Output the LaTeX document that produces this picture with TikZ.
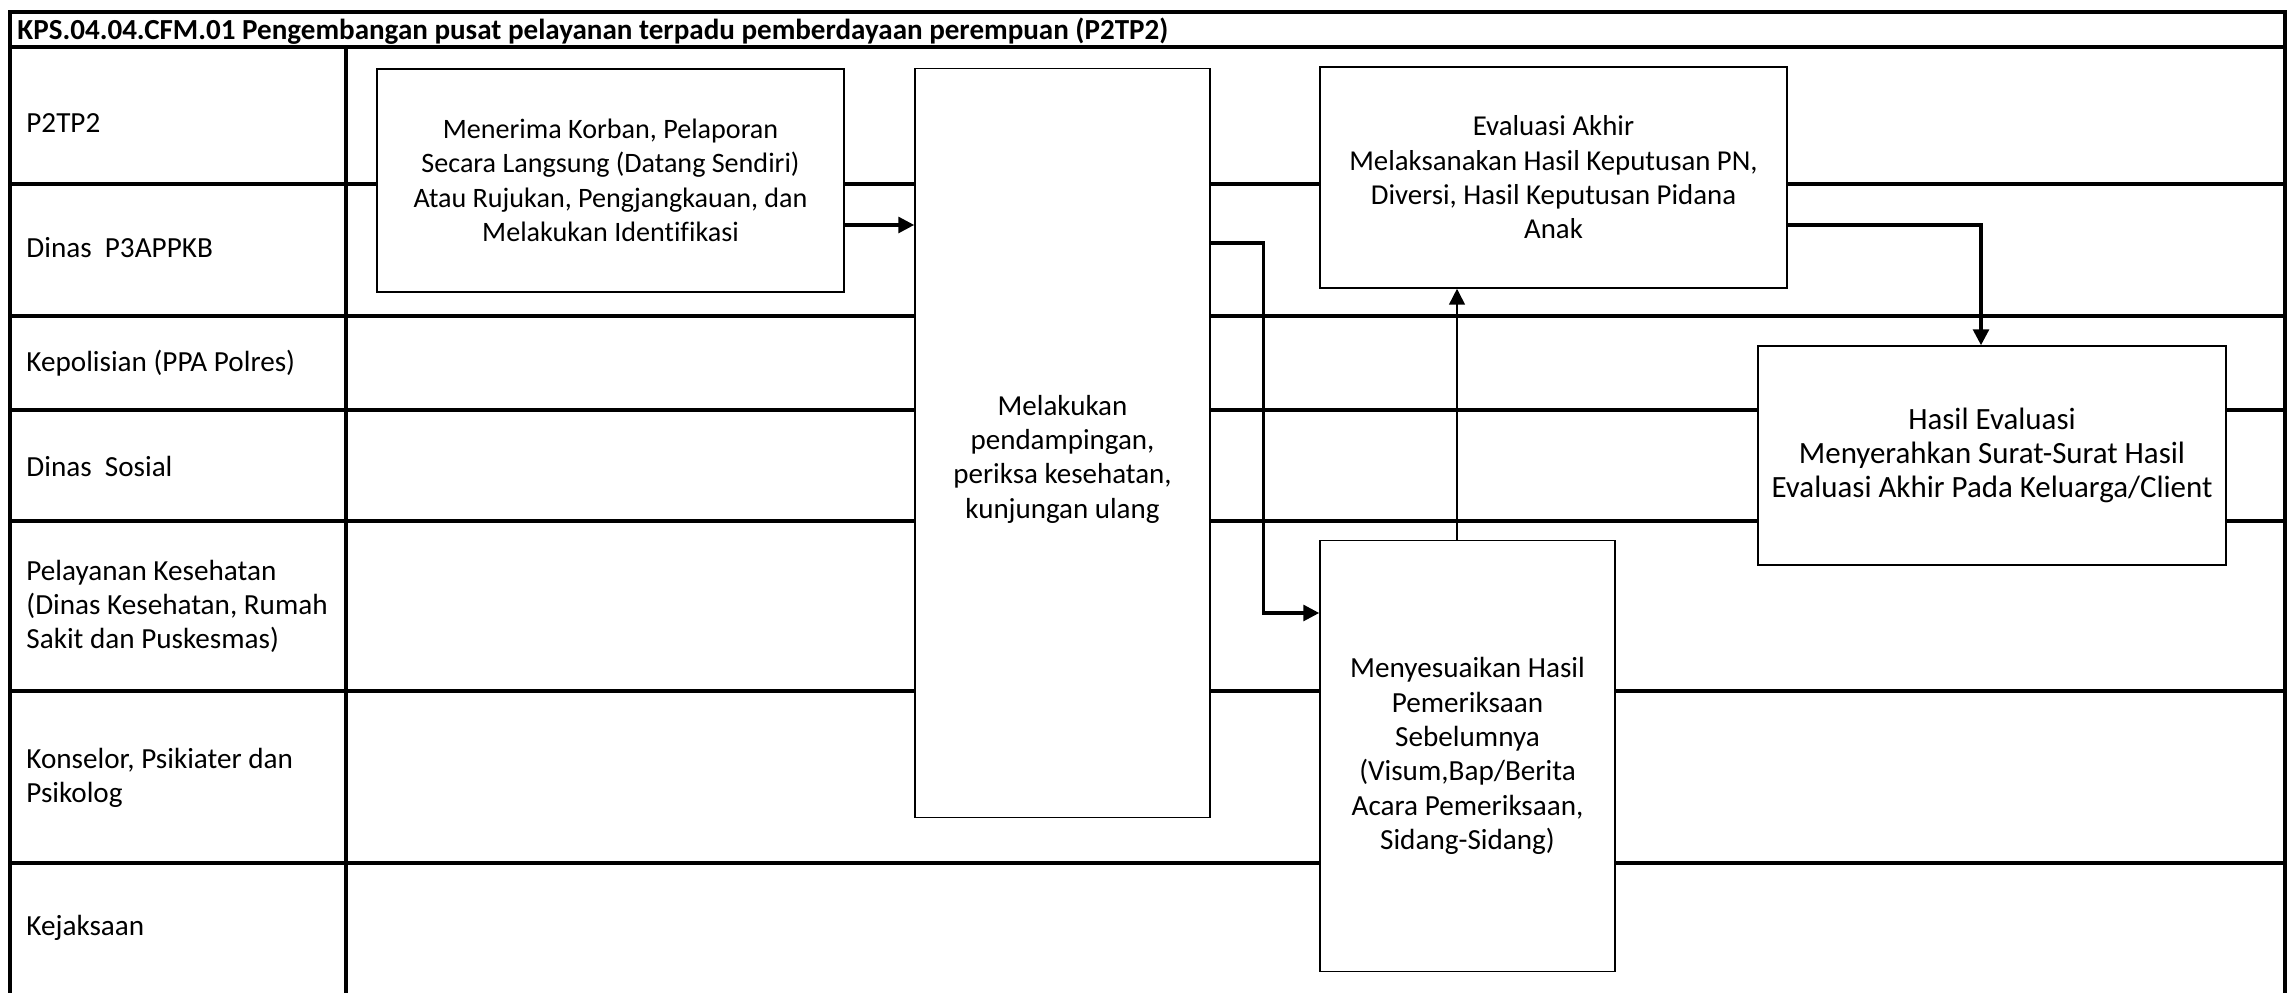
\documentclass[tikz,border=0pt]{standalone}
\usepackage{fontspec}
\setmainfont{Carlito}[Ligatures=NoCommon]
\usetikzlibrary{arrows.meta}

\tikzset{
    lane/.style={line width=0.9pt},
    lanelabel/.style={anchor=west,align=left,font=\fontsize{8.3pt}{9.76pt}\selectfont},
    box/.style={draw,fill=white,line width=0.45pt,align=center},
    boxsize/.style={font=\fontsize{#1}{9.76pt}\selectfont},
    flow/.style={line width=0.9pt,-{Triangle[length=4.5pt,width=4.5pt]}},
}

\begin{document}
\begin{tikzpicture}[font=\fontsize{8pt}{9.76pt}\selectfont,x=1cm,y=1cm]
    \useasboundingbox (0,0) rectangle (22.89,9.93);

    % frame and lanes
    \draw[lane] (0.10,-0.10) rectangle (22.85,9.81);
    \draw[lane] (0.10,9.46) -- (22.85,9.46);
    \draw[lane] (3.46,9.46) -- (3.46,-0.10);
    \foreach \y in {8.09,6.77,5.83,4.72,3.02,1.30}
        \draw[lane] (0.10,\y) -- (22.85,\y);

    \node[anchor=west,font=\fontsize{8.27pt}{9.76pt}\selectfont\bfseries] (title) at (0.05,9.62)
        {KPS.04.04.CFM.01 Pengembangan pusat pelayanan terpadu pemberdayaan perempuan (P2TP2)};

    \node[lanelabel] (lane-p2tp2) at (0.14,8.70) {P2TP2};
    \node[lanelabel] (lane-dinas) at (0.14,7.45) {Dinas\ \ P3APPKB};
    \node[lanelabel] (lane-polisi) at (0.14,6.295) {Kepolisian (PPA Polres)};
    \node[lanelabel] (lane-sosial) at (0.14,5.27) {Dinas\ \ Sosial};
    \node[lanelabel] (lane-kesehatan) at (0.14,3.865)
        {Pelayanan Kesehatan\\
         (Dinas Kesehatan, Rumah\\
         Sakit dan Puskesmas)};
    \node[lanelabel] (lane-konselor) at (0.14,2.15)
        {Konselor, Psikiater dan\\
         Psikolog};
    \node[lanelabel] (lane-jaksa) at (0.14,0.65) {Kejaksaan};

    % process boxes
    \node[box,boxsize=8pt,minimum width=4.67cm,minimum height=2.23cm] (intake) at (6.105,8.125)
        {Menerima Korban, Pelaporan\\
         Secara Langsung (Datang Sendiri)\\
         Atau Rujukan, Pengjangkauan, dan\\
         Melakukan Identifikasi};
    \node[box,minimum width=2.95cm,minimum height=7.49cm,
          label={[align=center,boxsize=8.25pt,yshift=-0.16cm]center:{Melakukan\\
                 pendampingan,\\
                 periksa kesehatan,\\
                 kunjungan ulang}}] (pendamping) at (10.625,5.50) {};
    \node[box,boxsize=8.2pt,minimum width=4.67cm,minimum height=2.21cm] (akhir) at (15.535,8.155)
        {Evaluasi Akhir\\
         Melaksanakan Hasil Keputusan PN,\\
         Diversi, Hasil Keputusan Pidana\\
         Anak};
    \node[box,boxsize=8.8pt,minimum width=4.68cm,minimum height=2.19cm] (hasil) at (19.92,5.375)
        {Hasil Evaluasi\\
         Menyerahkan Surat-Surat Hasil\\
         Evaluasi Akhir Pada Keluarga/Client};
    \node[box,boxsize=8.3pt,minimum width=2.95cm,minimum height=4.31cm] (adjust) at (14.675,2.37)
        {Menyesuaikan Hasil\\
         Pemeriksaan\\
         Sebelumnya\\
         (Visum,Bap/Berita\\
         Acara Pemeriksaan,\\
         Sidang-Sidang)};

    % connectors
    \draw[flow] ([yshift=-0.445cm]intake.east)
        -- ([yshift=-0.445cm]intake.east -| pendamping.west);
    \draw[flow] ([yshift=2.00cm]pendamping.east)
        -| ([xshift=-0.56cm,yshift=1.43cm]adjust.west)
        -- ([yshift=1.43cm]adjust.west);
    \draw[flow,line width=0.45pt] ([xshift=-0.105cm]adjust.north)
        -- ([xshift=-0.105cm]adjust.north |- akhir.south);
    \draw[flow] ([yshift=-0.475cm]akhir.east)
        -| ([xshift=-0.11cm]hasil.north);
\end{tikzpicture}
\end{document}
